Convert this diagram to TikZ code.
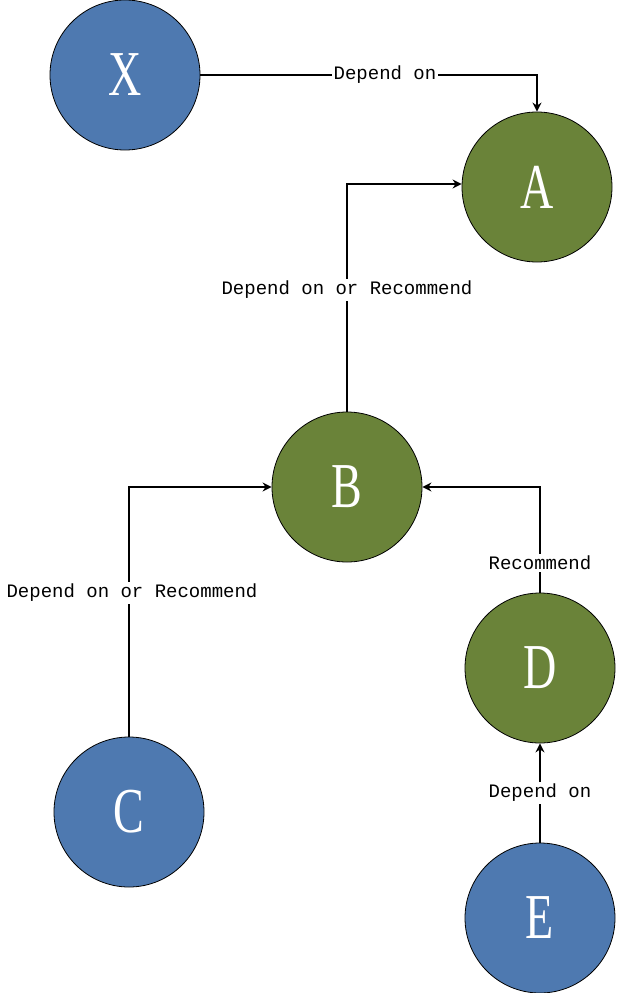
\documentclass[tikz,border=0pt]{standalone}
\usepackage{fontspec}
\setmainfont{Liberation Serif}
\newfontfamily\labfont{Liberation Mono}
\usetikzlibrary{arrows.meta}
\definecolor{nblue}{HTML}{4E79B0}
\definecolor{ngreen}{HTML}{6A8339}
\begin{document}
\begin{tikzpicture}[x=1pt,y=-1pt,
  circ/.style={circle,draw=black,line width=0.8pt,minimum size=150pt,inner sep=0pt,text=white,font=\fontsize{64}{64}\selectfont},
  blue/.style={circ,fill=nblue},
  green/.style={circ,fill=ngreen},
  con/.style={line width=2.5pt,-{Stealth[length=9pt,width=9pt]}},
  lab/.style={fill=white,inner sep=2pt,font=\labfont\fontsize{19}{20}\selectfont}]
\useasboundingbox (0,0) rectangle (617,993);
\newcommand\lt[1]{\scalebox{0.72}[1]{#1}}
\node[blue] (X) at (125,75) {\lt{X}};
\node[green] (A) at (537,187) {\lt{A}};
\node[green] (B) at (347,487) {\lt{B}};
\node[blue] (C) at (129,812) {\lt{C}};
\node[green] (D) at (540,668) {\lt{D}};
\node[blue] (E) at (540,918) {\lt{E}};
\coordinate (k1) at (537,75);
\coordinate (k2) at (347,184);
\coordinate (k3) at (129,487);
\coordinate (k4) at (540,487);
\draw[con] (X.east) -- (k1) -- (A.north);
\draw[con] (B.north) -- (k2) -- (A.west|-k2);
\draw[con] (C.north) -- (k3) -- (B.west);
\draw[con] (D.north) -- (k4) -- (B.east);
\draw[con] (E.north) -- (D.south);
\node[lab] (l1) at (385,75) {Depend on};
\node[lab] (l2) at (347,290) {Depend on or Recommend};
\node[lab] (l3) at (132,593) {Depend on or Recommend};
\node[lab] (l4) at (540,563) {Recommend};
\node[lab] (l5) at (540,793) {Depend on};
\end{tikzpicture}
\end{document}
